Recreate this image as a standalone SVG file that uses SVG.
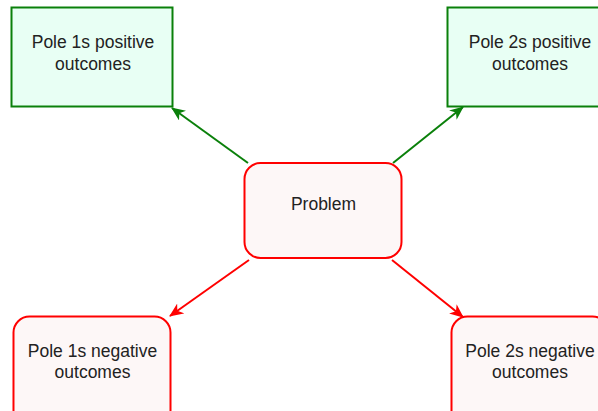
<svg xmlns="http://www.w3.org/2000/svg" width="598" height="411" viewBox="0 0 598 411">
<style>
.pos{fill:#e8fff4;stroke:#0a800a;stroke-width:2}
.neg{fill:#fdf7f7;stroke:#ff0000;stroke-width:2}
.t{font-family:"Liberation Sans",Arial,sans-serif;font-size:17.5px;fill:#222;text-anchor:middle}
.g{stroke:#0a800a;stroke-width:2;fill:none}
.r{stroke:#ff0000;stroke-width:2;fill:none}
</style>
<defs>
<marker id="ag" viewBox="0 0 14 12" refX="13" refY="6" markerWidth="14" markerHeight="12" markerUnits="userSpaceOnUse" orient="auto"><path d="M0,0 L14,6 L0,12 L4,6 Z" fill="#0a800a"/></marker>
<marker id="ar" viewBox="0 0 14 12" refX="13" refY="6" markerWidth="14" markerHeight="12" markerUnits="userSpaceOnUse" orient="auto"><path d="M0,0 L14,6 L0,12 L4,6 Z" fill="#ff0000"/></marker>
</defs>
<rect width="598" height="411" fill="#ffffff"/>
<g id="connectors">
<line class="g" x1="248" y1="163" x2="172" y2="108" marker-end="url(#ag)"/>
<line class="g" x1="393" y1="163" x2="463" y2="107" marker-end="url(#ag)"/>
<line class="r" x1="249" y1="260" x2="170" y2="316" marker-end="url(#ar)"/>
<line class="r" x1="392" y1="260" x2="463" y2="317" marker-end="url(#ar)"/>
</g>
<g id="pole1pos">
<rect class="pos" x="11.5" y="7.5" width="161" height="99"/>
<text class="t" x="93" y="48">Pole 1s positive</text>
<text class="t" x="93" y="70">outcomes</text>
</g>
<g id="pole2pos">
<rect class="pos" x="447.5" y="7.5" width="161" height="99"/>
<text class="t" x="530" y="48">Pole 2s positive</text>
<text class="t" x="530" y="70">outcomes</text>
</g>
<g id="problem">
<rect class="neg" x="244.5" y="163" width="157" height="95" rx="16" ry="16"/>
<text class="t" x="323.5" y="210">Problem</text>
</g>
<g id="pole1neg">
<rect class="neg" x="13.5" y="316.5" width="157" height="110" rx="16" ry="16"/>
<text class="t" x="92.5" y="357">Pole 1s negative</text>
<text class="t" x="92.5" y="378">outcomes</text>
</g>
<g id="pole2neg">
<rect class="neg" x="451.5" y="316.5" width="157" height="110" rx="16" ry="16"/>
<text class="t" x="530" y="357">Pole 2s negative</text>
<text class="t" x="530" y="378">outcomes</text>
</g>
</svg>
